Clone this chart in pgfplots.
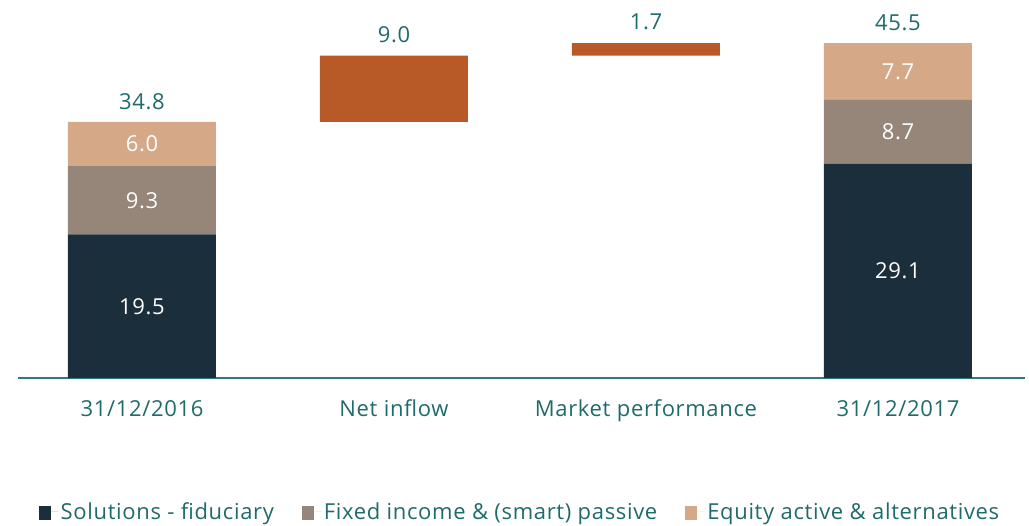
\documentclass[border=0pt]{standalone}
\usepackage{pgfplots}
\pgfplotsset{compat=1.18}
\usepackage{fontspec}
\setmainfont{Open Sans}[LetterSpace=3]
\definecolor{navy}{HTML}{1B2E3C}
\definecolor{taupe}{HTML}{968579}
\definecolor{tanc}{HTML}{D5A987}
\definecolor{rust}{HTML}{B85928}
\definecolor{tealtxt}{HTML}{1F6B6B}
\definecolor{tealline}{HTML}{2E7B7B}
\tikzset{lbl/.style={font=\fontsize{22}{26}\selectfont}}
\begin{document}
\begin{tikzpicture}
\path[use as bounding box] (0,0) rectangle (1029pt,526pt);
\begin{axis}[
  at={(18pt,148pt)}, anchor=south west,
  scale only axis, width=1007pt, height=368pt,
  xmin=-0.492, xmax=3.504, ymin=0, ymax=50,
  ybar stacked, bar width=148pt,
  axis x line=bottom, axis y line=none,
  x axis line style={-, draw=tealline, line width=1.5pt},
  xtick={0,1,2,3},
  xticklabels={31/12/2016, Net inflow, Market performance, 31/12/2017},
  major tick length=0pt,
  xticklabel style={font=\fontsize{22}{26}\selectfont, text=tealtxt, anchor=base, yshift=-39pt},
  clip=false,
  legend columns=-1,
  legend style={draw=none, fill=none, at={(0.4985,0)}, anchor=center, yshift=-134pt,
    font=\fontsize{22}{26}\selectfont, text=tealtxt,
    /tikz/every even column/.append style={column sep=26pt}},
  legend image code/.code={\path (0pt,0pt) -- (20pt,0pt); \fill[#1] (0pt,-8pt) rectangle (12pt,6pt);},
]
\addplot[fill=navy, draw=none] coordinates {(0,19.5) (1,0) (2,0) (3,29.1)};
\addlegendentry{Solutions - fiduciary}
\addplot[fill=taupe, draw=none] coordinates {(0,9.3) (1,0) (2,0) (3,8.7)};
\addlegendentry{Fixed income \& (smart) passive}
\addplot[fill=tanc, draw=none] coordinates {(0,6.0) (1,0) (2,0) (3,7.7)};
\addlegendentry{Equity active \& alternatives}
\addplot[fill=white, draw=none, fill opacity=0, forget plot] coordinates {(0,0) (1,34.8) (2,43.8) (3,0)};
\addplot[fill=rust, draw=none, forget plot] coordinates {(0,0) (1,9.0) (2,1.7) (3,0)};
\coordinate (a1) at (axis cs:0,9.75);
\coordinate (a2) at (axis cs:0,24.15);
\coordinate (a3) at (axis cs:0,31.8);
\coordinate (a4) at (axis cs:0,37.6);
\coordinate (b1) at (axis cs:1,46.6);
\coordinate (c1) at (axis cs:2,48.4);
\coordinate (d1) at (axis cs:3,14.55);
\coordinate (d2) at (axis cs:3,33.45);
\coordinate (d3) at (axis cs:3,41.65);
\coordinate (d4) at (axis cs:3,48.3);
\end{axis}
\node[lbl, text=white] at (a1) {19.5};
\node[lbl, text=white] at (a2) {9.3};
\node[lbl, text=white] at (a3) {6.0};
\node[lbl, text=tealtxt] at (a4) {34.8};
\node[lbl, text=tealtxt] at (b1) {9.0};
\node[lbl, text=tealtxt] at (c1) {1.7};
\node[lbl, text=white] at (d1) {29.1};
\node[lbl, text=white] at (d2) {8.7};
\node[lbl, text=white] at (d3) {7.7};
\node[lbl, text=tealtxt] at (d4) {45.5};
\end{tikzpicture}
\end{document}
